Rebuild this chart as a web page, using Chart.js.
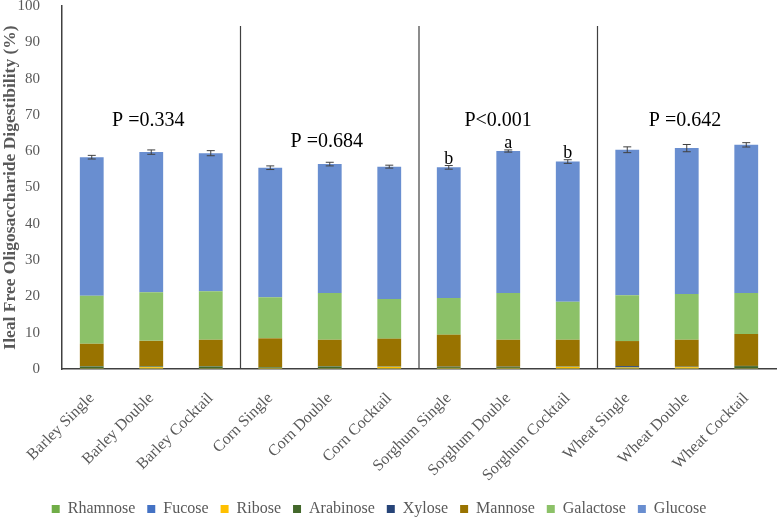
<!DOCTYPE html>
<html>
<head>
<meta charset="utf-8">
<script src="https://cdn.jsdelivr.net/npm/chart.js@4.4.1/dist/chart.umd.min.js"></script>
<style>
html, body { margin: 0; padding: 0; background: #fff; }
#wrap { width: 777px; height: 517px; }
</style>
</head>
<body>
<div id="wrap"><canvas id="chart"></canvas></div>
<script>
// 类别与数据
const categories = [
    'Barley Single', 'Barley Double', 'Barley Cocktail',
    'Corn Single', 'Corn Double', 'Corn Cocktail',
    'Sorghum Single', 'Sorghum Double', 'Sorghum Cocktail',
    'Wheat Single', 'Wheat Double', 'Wheat Cocktail'
];
const rhamnose  = [0.05, 0.05, 0.05, 0.05, 0.05, 0.05, 0.05, 0.05, 0.05, 0.05, 0.05, 0.05];
const fucose    = [0.05, 0.05, 0.05, 0.05, 0.05, 0.05, 0.05, 0.05, 0.05, 0.05, 0.05, 0.05];
const ribose    = [0.1, 0.4, 0.1, 0.2, 0.1, 0.5, 0.2, 0.2, 0.5, 0.3, 0.4, 0.1];
const arabinose = [0.5, 0.2, 0.5, 0.2, 0.5, 0.1, 0.3, 0.3, 0.1, 0.1, 0.1, 0.6];
const xylose    = [0.05, 0.05, 0.05, 0.05, 0.05, 0.05, 0.05, 0.05, 0.05, 0.3, 0.05, 0.05];
const mannose   = [6.2, 7.0, 7.3, 7.9, 7.3, 7.6, 8.8, 7.4, 7.3, 6.9, 7.4, 8.8];
const galactose = [13.2, 13.4, 13.4, 11.3, 12.9, 10.9, 10.1, 12.9, 10.5, 12.6, 12.6, 11.3];
const glucose   = [38.2, 38.6, 38.0, 35.7, 35.5, 36.5, 36.0, 39.1, 38.6, 40.1, 40.2, 40.8];
// 总量误差
const totalError = [0.5, 0.6, 0.7, 0.5, 0.5, 0.4, 0.5, 0.3, 0.5, 0.8, 1.0, 0.6];
// P 值标注
const pTexts = ['P =0.334', 'P =0.684', 'P<0.001', 'P =0.642'];
const pAt = [0.95, 3.95, 6.83, 9.97];
const pValueY = [66.9, 61.2, 66.9, 66.9];
// 显著性字母
const letters = ['', '', '', '', '', '', 'b', 'a', 'b', '', '', ''];
// 分组分隔线
const dividers = [2.5, 5.5, 8.5];
const dividerTop = 94.5;

const serif = '"Liberation Serif", "Times New Roman", serif';
const gray = '#595959';

const series = [
    ['Rhamnose', rhamnose, '#70AD47'],
    ['Fucose', fucose, '#4472C4'],
    ['Ribose', ribose, '#FFC000'],
    ['Arabinose', arabinose, '#43682B'],
    ['Xylose', xylose, '#264478'],
    ['Mannose', mannose, '#997300'],
    ['Galactose', galactose, '#8CC168'],
    ['Glucose', glucose, '#698ED0']
];

// 误差线、分隔线和文字标注
const overlayPlugin = {
    id: 'overlay',
    afterInit(chart) {
        // 图例高度固定
        const lg = chart.legend;
        const origFit = lg.fit;
        lg.fit = function () {
            origFit.call(this);
            this.height = 28;
        };
    },
    afterLayout(chart) {
        chart.legend.left -= 9;
        chart.legend.right -= 9;
    },
    afterDatasetsDraw(chart) {
        const ctx = chart.ctx;
        const x = chart.scales.x;
        const y = chart.scales.y;
        ctx.save();

        // 分隔线
        ctx.strokeStyle = '#404040';
        ctx.lineWidth = 1.2;
        dividers.forEach(d => {
            const px = x.getPixelForValue(d);
            ctx.beginPath();
            ctx.moveTo(px, y.getPixelForValue(dividerTop));
            ctx.lineTo(px, y.getPixelForValue(0));
            ctx.stroke();
        });

        // 误差线
        ctx.lineWidth = 1;
        categories.forEach((c, i) => {
            let total = 0;
            chart.data.datasets.forEach(ds => { total += ds.data[i]; });
            const px = x.getPixelForValue(i);
            const top = y.getPixelForValue(total + totalError[i]);
            const bot = y.getPixelForValue(total - totalError[i]);
            ctx.beginPath();
            ctx.moveTo(px, top); ctx.lineTo(px, bot);
            ctx.moveTo(px - 4, top); ctx.lineTo(px + 4, top);
            ctx.moveTo(px - 4, bot); ctx.lineTo(px + 4, bot);
            ctx.stroke();

            if (letters[i]) {
                ctx.fillStyle = '#000';
                ctx.font = '18px ' + serif;
                ctx.textAlign = 'center';
                ctx.textBaseline = 'alphabetic';
                ctx.fillText(letters[i], px, top - 2);
            }
        });

        // P 值
        ctx.fillStyle = '#000';
        ctx.font = '20px ' + serif;
        ctx.textAlign = 'center';
        ctx.textBaseline = 'alphabetic';
        pTexts.forEach((t, k) => {
            ctx.fillText(t, x.getPixelForValue(pAt[k]), y.getPixelForValue(pValueY[k]));
        });

        ctx.restore();
    }
};

new Chart(document.getElementById('chart'), {
    type: 'bar',
    data: {
        labels: categories,
        datasets: series.map(s => ({
            label: s[0],
            data: s[1],
            backgroundColor: s[2],
            borderWidth: 0,
            barPercentage: 0.4,
            categoryPercentage: 1.0
        }))
    },
    options: {
        responsive: true,
        maintainAspectRatio: false,
        animation: false,
        layout: { padding: { top: 6, right: 1, left: 0, bottom: 0 } },
        plugins: {
            legend: {
                position: 'bottom',
                labels: {
                    color: gray,
                    font: { family: serif, size: 16 },
                    boxWidth: 8,
                    boxHeight: 8,
                    padding: 12
                }
            },
            tooltip: { enabled: false }
        },
        scales: {
            x: {
                stacked: true,
                grid: { display: false },
                border: { display: true, color: '#404040', width: 1.5 },
                ticks: {
                    color: gray,
                    font: { family: serif, size: 16 },
                    maxRotation: 45,
                    minRotation: 45,
                    padding: 12,
                    autoSkip: false
                },
                afterFit(scale) { scale.height = 120; }
            },
            y: {
                stacked: true,
                min: 0,
                max: 100,
                grid: { display: false },
                border: { display: true, color: '#404040', width: 1.5 },
                ticks: {
                    stepSize: 10,
                    color: gray,
                    font: { family: serif, size: 15 },
                    padding: 14
                },
                title: {
                    display: true,
                    text: 'Ileal Free Oligosaccharide Digestibility (%)',
                    color: gray,
                    font: { family: serif, size: 17.5, weight: 'bold' },
                    padding: { top: 0, bottom: 0 }
                },
                afterFit(scale) {
                    scale.width = 62;
                    scale.paddingTop = 0;
                    scale.paddingBottom = 0;
                }
            }
        }
    },
    plugins: [overlayPlugin]
});
</script>
</body>
</html>
